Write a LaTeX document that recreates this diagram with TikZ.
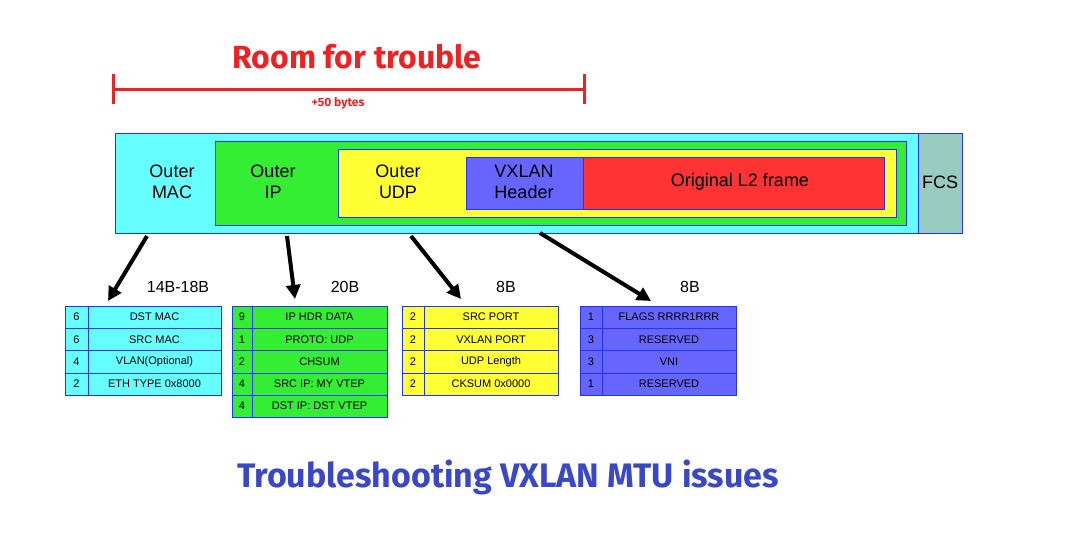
\documentclass[tikz,border=0pt]{standalone}
\usepackage{fontspec}
\setmainfont{Liberation Sans}
\newfontfamily\titlefont{Fira Sans}
\usetikzlibrary{arrows.meta}
\definecolor{hdrcyan}{HTML}{66FFFF}
\definecolor{hdrgreen}{HTML}{33EE33}
\definecolor{hdryellow}{HTML}{FFFF33}
\definecolor{hdrblue}{HTML}{6666FF}
\definecolor{hdrred}{HTML}{FF3333}
\definecolor{hdrgrey}{HTML}{99CCC0}
\definecolor{edgeblue}{HTML}{2233FF}
\definecolor{troublered}{HTML}{EE2222}
\definecolor{titleblue}{HTML}{3A48C8}
\tikzset{
  hdr/.style={draw=edgeblue, line width=0.8pt},
  hdrtext/.style={font=\fontsize{18}{21}\selectfont, align=center},
  cell/.style={draw=edgeblue, line width=0.6pt, font=\fontsize{11}{12}\selectfont},
  size/.style={font=\fontsize{16}{18}\selectfont},
  bigarrow/.style={-{Triangle[length=14pt,width=14pt]}, line width=4pt},
}
% draw a table: #1 name, #2 colour, #3 left x, #4 number column x, #5 right x, #6 list num/text
\newcommand{\fieldtable}[6]{%
  \foreach \n/\t [count=\i] in {#6} {
    \pgfmathsetmacro{\ytop}{306+(\i-1)*22.3}
    \draw[cell, fill=#2] (#3,\ytop) rectangle (#4,\ytop+22.3);
    \draw[cell, fill=#2] (#4,\ytop) rectangle (#5,\ytop+22.3);
    \node[cell, draw=none] (#1num\i) at ({(#3+#4)/2},\ytop+11) {\n};
    \node[cell, draw=none] (#1txt\i) at ({(#4+#5)/2},\ytop+11) {\t};
  }}
\begin{document}
\begin{tikzpicture}[x=1pt, y=-1pt]
  \useasboundingbox (0,0) rectangle (1076,536);

  % room for trouble
  \node[text=troublered, font=\bfseries\titlefont\fontsize{32}{34}\selectfont] (room) at (357,57) {Room for trouble};
  \coordinate (bl) at (113,89);
  \coordinate (br) at (584,89);
  \draw[troublered, line width=3pt] (bl) -- (br);
  \draw[troublered, line width=3pt] (113,74) -- (113,104);
  \draw[troublered, line width=3pt] (584,74) -- (584,104);
  \node[text=troublered, font=\bfseries\titlefont\fontsize{12}{14}\selectfont] (plus) at (338,103) {+50 bytes};

  % header layers
  \draw[hdr, fill=hdrcyan] (115,133) rectangle (918,233);
  \draw[hdr, fill=hdrgrey] (918,133) rectangle (962,233);
  \draw[hdr, fill=hdrgreen] (215,141) rectangle (906,225);
  \draw[hdr, fill=hdryellow] (338,149) rectangle (896,217);
  \draw[hdr, fill=hdrblue] (466,157) rectangle (583,209);
  \draw[hdr, fill=hdrred] (583,157) rectangle (884,209);
  \node[hdrtext] (mac) at (172,182) {Outer\\MAC};
  \node[hdrtext] (ip) at (273,182) {Outer\\IP};
  \node[hdrtext] (udp) at (398,182) {Outer\\UDP};
  \node[hdrtext] (vxlan) at (524,182) {VXLAN\\Header};
  \node[hdrtext] (orig) at (740,182) {Original L2 frame};
  \node[hdrtext] (fcs) at (940,182) {FCS};

  % field tables
  \fieldtable{mac}{hdrcyan}{65}{88}{221}{6/DST MAC, 6/SRC MAC, 4/VLAN(Optional), 2/ETH TYPE 0x8000}
  \fieldtable{ip}{hdrgreen}{232}{252}{387}{9/IP HDR DATA, 1/PROTO: UDP, 2/CHSUM, 4/SRC IP: MY VTEP, 4/DST IP: DST VTEP}
  \fieldtable{udp}{hdryellow}{402}{424}{558}{2/SRC PORT, 2/VXLAN PORT, 2/UDP Length, 2/CKSUM 0x0000}
  \fieldtable{vx}{hdrblue}{580}{602}{736}{1/FLAGS RRRR1RRR, 3/RESERVED, 3/VNI, 1/RESERVED}

  \node[size] (macsize) at (178,287) {14B-18B};
  \node[size] (ipsize) at (345,287) {20B};
  \node[size] (udpsize) at (506,287) {8B};
  \node[size] (vxsize) at (690,287) {8B};

  % arrows
  \coordinate (a1) at (147,236);
  \coordinate (a2) at (287,236);
  \coordinate (a3) at (411,236);
  \coordinate (a4) at (540,233);
  \coordinate (b1) at (108,301);
  \coordinate (b2) at (295,299);
  \coordinate (b3) at (461,299);
  \coordinate (b4) at (651,301);
  \draw[bigarrow] (a1) -- (b1);
  \draw[bigarrow] (a2) -- (b2);
  \draw[bigarrow] (a3) -- (b3);
  \draw[bigarrow] (a4) -- (b4);

  \node[text=titleblue, font=\bfseries\titlefont\fontsize{34}{36}\selectfont] (title) at (508,477) {Troubleshooting VXLAN MTU issues};
\end{tikzpicture}
\end{document}
